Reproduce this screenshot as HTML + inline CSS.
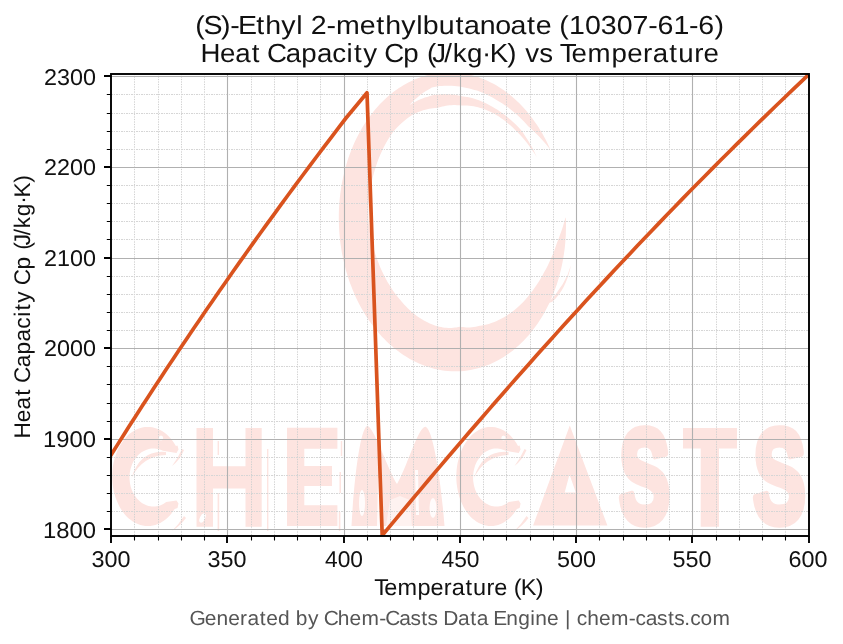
<!DOCTYPE html><html><head><meta charset="utf-8"><style>html,body{margin:0;padding:0;background:#fff;overflow:hidden}svg{display:block;will-change:transform}text{font-family:"Liberation Sans",sans-serif;text-rendering:geometricPrecision}</style></head><body>
<svg width="843" height="644" viewBox="0 0 843 644">
<defs><clipPath id="ax"><rect x="111.00" y="73.86" width="698.00" height="461.84"/></clipPath></defs>
<g clip-path="url(#ax)" fill="#fde4e0">
<path d="M565.8,217.8 L566.0,222.0 L566.0,226.3 L565.9,230.6 L565.8,234.9 L565.5,239.2 L565.2,243.4 L564.8,247.7 L564.2,251.9 L563.6,256.1 L562.9,260.2 L562.1,264.4 L561.2,268.5 L560.2,272.5 L559.2,276.5 L558.0,280.5 L556.8,284.4 L555.4,288.3 L554.0,292.1 L552.5,295.9 L550.9,299.6 L549.3,303.2 L547.5,306.8 L545.7,310.3 L543.8,313.7 L541.9,317.0 L539.8,320.3 L537.7,323.5 L535.5,326.6 L533.2,329.6 L530.9,332.5 L528.5,335.4 L526.1,338.1 L523.6,340.8 L521.0,343.3 L518.4,345.8 L515.7,348.1 L513.0,350.4 L510.2,352.5 L507.3,354.5 L504.5,356.5 L501.6,358.3 L498.6,360.0 L495.6,361.5 L492.6,363.0 L489.5,364.4 L486.4,365.6 L483.3,366.7 L480.1,367.7 L477.0,368.6 L473.8,369.3 L470.6,370.0 L467.3,370.5 L464.1,370.9 L460.8,371.2 L457.6,371.3 L454.3,371.3 L451.1,371.2 L447.8,371.0 L444.6,370.7 L441.3,370.2 L438.1,369.6 L434.8,368.9 L431.6,368.0 L428.4,367.1 L425.3,366.0 L422.1,364.8 L419.0,363.5 L415.9,362.1 L412.8,360.5 L409.8,358.9 L406.8,357.1 L403.8,355.2 L400.9,353.2 L398.0,351.1 L395.1,348.9 L392.4,346.6 L389.6,344.2 L386.9,341.7 L384.3,339.1 L381.7,336.4 L379.2,333.6 L376.7,330.7 L374.3,327.7 L372.0,324.6 L369.7,321.4 L367.5,318.2 L365.4,314.9 L363.3,311.5 L361.3,308.0 L359.4,304.5 L357.6,300.9 L355.8,297.2 L354.2,293.4 L352.6,289.7 L351.1,285.8 L349.6,281.9 L348.3,277.9 L347.0,273.9 L345.8,269.9 L344.8,265.8 L343.8,261.7 L342.9,257.5 L342.0,253.4 L341.3,249.2 L340.7,244.9 L340.1,240.7 L339.7,236.4 L339.3,232.1 L339.1,227.9 L338.9,223.6 L338.8,219.3 L338.8,215.0 L338.9,210.7 L339.1,206.4 L339.4,202.2 L339.8,197.9 L340.3,193.7 L340.9,189.5 L341.5,185.3 L342.3,181.2 L343.2,177.1 L344.1,173.0 L345.1,168.9 L346.2,165.0 L347.4,161.0 L348.7,157.1 L350.1,153.3 L351.6,149.5 L353.1,145.8 L354.7,142.1 L356.4,138.5 L358.2,135.0 L360.1,131.5 L362.0,128.1 L364.0,124.8 L366.1,121.6 L368.3,118.5 L370.5,115.4 L372.8,112.4 L375.1,109.5 L377.6,106.8 L380.0,104.1 L382.6,101.5 L385.2,99.0 L387.8,96.6 L390.6,94.3 L393.3,92.1 L396.1,90.0 L399.0,88.0 L415.7,113.1 L413.5,114.3 L411.4,115.6 L409.2,117.1 L407.1,118.6 L405.0,120.3 L402.9,122.0 L400.9,123.8 L398.8,125.8 L396.8,127.8 L394.8,129.9 L392.9,132.2 L391.2,134.7 L389.5,137.2 L387.9,139.8 L386.3,142.5 L384.8,145.3 L383.4,148.1 L382.0,151.0 L380.6,154.0 L379.3,157.0 L378.1,160.1 L377.0,163.3 L375.9,166.5 L374.9,169.7 L373.9,173.0 L373.0,176.4 L372.2,179.8 L371.5,183.2 L370.8,186.7 L370.3,190.2 L369.7,193.8 L369.3,197.3 L369.0,200.9 L368.7,204.5 L368.5,208.1 L368.4,211.8 L368.4,215.4 L368.4,219.1 L368.7,222.7 L369.1,226.3 L369.7,229.9 L370.3,233.5 L370.9,237.1 L371.7,240.6 L372.5,244.1 L373.4,247.6 L374.4,251.0 L375.5,254.4 L376.6,257.7 L377.8,261.0 L379.0,264.3 L380.3,267.4 L381.7,270.6 L383.1,273.6 L384.6,276.6 L386.2,279.5 L387.8,282.4 L389.5,285.1 L391.2,287.8 L392.9,290.5 L394.7,293.0 L396.6,295.4 L398.4,297.8 L400.3,300.1 L402.2,302.2 L404.1,304.4 L406.1,306.4 L408.0,308.4 L410.0,310.2 L411.9,312.0 L413.9,313.6 L415.9,315.2 L417.9,316.7 L419.9,318.1 L421.9,319.3 L423.9,320.5 L425.9,321.6 L427.9,322.6 L429.8,323.5 L431.8,324.3 L433.7,325.1 L435.6,325.7 L437.5,326.2 L439.3,326.7 L441.2,327.1 L443.0,327.4 L444.8,327.7 L446.5,327.8 L448.2,327.9 L449.9,327.9 L451.6,327.9 L453.2,327.8 L454.9,327.6 L456.5,327.4 L458.1,327.1 L459.6,326.8 L461.2,326.9 L462.9,327.1 L464.6,327.3 L466.4,327.4 L468.2,327.4 L470.0,327.4 L471.9,327.2 L473.8,327.0 L475.7,326.7 L477.7,326.3 L479.7,325.8 L482.0,325.4 L484.2,325.0 L486.6,324.5 L488.9,323.9 L491.3,323.1 L493.7,322.2 L496.2,321.2 L498.6,320.1 L501.1,318.8 L503.6,317.5 L506.1,315.9 L508.6,314.3 L511.1,312.6 L513.6,310.7 L516.0,308.7 L518.5,306.5 L520.9,304.3 L523.2,301.9 L525.5,299.4 L527.8,296.8 L530.0,294.1 L532.2,291.3 L534.3,288.3 L536.4,285.3 L538.4,282.2 L540.4,279.0 L542.3,275.7 L544.1,272.3 L546.0,268.9 L547.8,265.4 L549.5,261.8 L551.2,258.1 L552.8,254.3 L554.3,250.5 L555.7,246.6 L557.0,242.7 L558.6,238.7 L560.1,234.6 L561.6,230.5 L563.0,226.3 L564.2,222.1 L565.4,217.8ZM398.1,88.6 L400.7,86.9 L403.4,85.3 L406.1,83.7 L408.8,82.2 L411.6,80.9 L414.4,79.6 L417.2,78.5 L420.0,77.4 L422.9,76.4 L425.8,75.6 L428.7,74.8 L431.6,74.1 L434.5,73.6 L437.5,73.1 L440.4,72.7 L443.4,72.5 L446.3,72.3 L449.3,72.3 L452.3,72.3 L455.3,72.5 L458.2,72.7 L461.2,73.1 L464.2,73.5 L467.1,74.1 L470.1,74.8 L473.0,75.5 L475.9,76.4 L478.8,77.3 L481.7,78.4 L484.6,79.5 L487.4,80.8 L490.2,82.2 L493.0,83.6 L495.8,85.1 L498.5,86.8 L501.2,88.5 L503.9,90.3 L506.5,92.2 L509.1,94.2 L511.7,96.3 L514.2,98.5 L516.6,100.8 L519.1,103.1 L521.5,105.5 L523.8,108.0 L526.1,110.6 L528.3,113.2 L530.5,116.0 L532.6,118.8 L534.7,121.7 L536.7,124.6 L538.7,127.6 L540.6,130.7 L542.5,133.8 L544.2,137.0 L546.0,140.3 L547.6,143.6 L549.2,146.9 L550.7,150.3 L550.7,150.3 L548.4,147.3 L546.0,144.3 L543.6,141.5 L541.1,138.7 L538.6,136.0 L536.0,133.4 L533.5,130.9 L530.8,128.5 L528.2,126.3 L526.0,123.7 L523.7,121.3 L521.4,118.9 L519.1,116.7 L516.7,114.5 L514.3,112.4 L511.9,110.4 L509.4,108.4 L507.0,106.6 L504.5,104.9 L502.0,103.2 L499.4,101.7 L496.9,100.2 L494.5,98.7 L492.0,97.3 L489.5,95.9 L487.0,94.7 L484.5,93.5 L482.0,92.5 L479.5,91.5 L477.0,90.6 L474.4,89.9 L471.9,89.2 L469.4,88.5 L466.8,88.0 L464.3,87.6 L461.8,87.1 L459.3,86.6 L456.8,86.3 L454.3,86.0 L451.8,85.8 L449.3,85.7 L446.8,85.7 L444.3,85.7 L441.8,85.9 L439.3,86.1 L436.8,86.5 L434.3,86.9 L431.8,87.6 L429.5,88.9 L427.3,90.2 L425.1,91.6 L422.9,93.0 L420.8,94.6 L418.8,96.2 L416.8,97.9 L414.9,99.6 L413.0,101.4 L411.1,103.2 L409.4,105.2ZM409.4,105.2 L411.5,103.8 L413.7,102.6 L415.9,101.4 L418.2,100.3 L420.4,99.3 L422.6,98.4 L424.8,97.6 L427.1,96.9 L429.3,96.2 L431.6,95.6 L433.8,95.1 L436.1,94.7 L438.3,94.5 L440.6,94.2 L442.8,94.1 L445.1,94.1 L447.3,94.1 L449.6,94.2 L451.8,94.4 L454.0,94.6 L456.2,94.9 L458.4,95.4 L460.6,95.8 L462.8,96.4 L465.1,96.7 L467.4,97.1 L469.7,97.5 L472.0,98.1 L474.3,98.7 L476.6,99.5 L478.9,100.3 L481.2,101.2 L483.5,102.2 L485.9,103.3 L488.2,104.4 L490.5,105.7 L492.8,107.0 L495.2,108.4 L497.5,109.8 L499.9,111.4 L502.2,113.0 L504.5,114.7 L506.8,116.5 L509.1,118.4 L511.4,120.4 L513.6,122.4 L515.8,124.6 L518.0,126.8 L520.1,129.1 L522.2,131.6 L524.0,134.2 L525.8,136.9 L527.6,139.7 L529.3,142.5 L531.0,145.4 L532.6,148.3 L534.1,151.3 L535.6,154.4 L537.0,157.5 L537.0,157.5 L535.2,154.6 L533.3,151.7 L531.4,148.9 L529.4,146.2 L527.4,143.6 L525.4,141.0 L523.3,138.5 L521.1,136.1 L519.0,133.8 L516.8,131.6 L514.7,129.4 L512.5,127.3 L510.3,125.3 L508.0,123.4 L505.8,121.5 L503.5,119.8 L501.2,118.2 L498.9,116.6 L496.6,115.2 L494.3,113.8 L492.0,112.5 L489.7,111.4 L487.4,110.4 L485.0,109.5 L482.7,108.6 L480.4,107.9 L478.1,107.3 L475.9,106.8 L473.6,106.3 L471.4,106.0 L469.3,105.7 L467.1,105.5 L465.0,105.4 L462.9,105.4 L460.9,105.4 L459.0,105.3 L457.0,105.2 L455.1,105.1 L453.3,105.1 L451.4,105.2 L449.5,105.3 L447.7,105.6 L445.9,105.8 L444.1,106.2 L442.3,106.6 L440.5,107.0 L438.8,107.5 L437.0,108.0 L435.1,108.1 L433.2,108.3 L431.2,108.5 L429.2,108.8 L427.3,109.2 L425.3,109.7 L423.2,110.3 L421.2,110.9 L419.1,111.7 L417.1,112.5 L415.0,113.4Z"/>
<path d="M548,303 Q566,284 571,265 Q566,290 552,302Z"/>
<path d="M175.9,446.0 L174.2,443.3 L172.5,440.7 L170.6,438.4 L168.6,436.2 L166.5,434.3 L164.3,432.5 L162.0,431.0 L159.6,429.7 L157.2,428.7 L154.8,427.9 L152.3,427.3 L149.7,427.0 L147.2,426.9 L144.7,427.1 L142.2,427.5 L139.7,428.2 L137.3,429.1 L134.9,430.3 L132.5,431.7 L130.3,433.3 L128.1,435.1 L126.1,437.2 L124.1,439.4 L122.3,441.9 L120.6,444.5 L119.0,447.3 L117.6,450.2 L116.4,453.2 L115.3,456.4 L114.3,459.7 L113.5,463.0 L112.9,466.5 L112.5,469.9 L112.3,473.4 L112.2,477.0 L112.3,480.5 L112.6,484.0 L113.1,487.4 L113.7,490.9 L114.5,494.2 L115.5,497.4 L116.7,500.6 L118.0,503.6 L119.4,506.5 L121.0,509.2 L122.8,511.8 L124.6,514.2 L126.6,516.4 L128.7,518.4 L130.9,520.1 L133.1,521.7 L135.5,523.0 L137.9,524.1 L140.3,525.0 L142.8,525.6 L145.4,526.0 L147.9,526.1 L150.4,526.0 L152.9,525.6 L155.4,525.0 L157.9,524.1 L160.3,523.0 L162.6,521.6 L164.9,520.0 L167.0,518.2 L169.1,516.2 L171.1,514.0 L172.9,511.6 L174.7,509.0 L177.5,508.0 L178.5,503.5 L176.5,500.5 L166.2,502.1 L164.8,503.1 L163.3,504.0 L161.7,504.7 L160.1,505.4 L158.5,505.9 L156.9,506.2 L155.2,506.4 L153.6,506.5 L151.9,506.4 L150.2,506.2 L148.6,505.9 L147.0,505.4 L145.4,504.8 L143.8,504.0 L142.3,503.2 L140.9,502.2 L139.5,501.0 L138.2,499.8 L136.9,498.5 L135.8,497.0 L134.7,495.5 L133.7,493.9 L132.8,492.2 L132.0,490.4 L131.3,488.6 L130.7,486.7 L130.3,484.7 L129.9,482.8 L129.7,480.8 L129.5,478.8 L129.5,476.8 L129.6,474.7 L129.8,472.7 L130.2,470.8 L130.6,468.8 L131.2,466.9 L131.8,465.1 L132.6,463.3 L133.4,461.6 L134.4,459.9 L135.5,458.4 L136.6,456.9 L137.8,455.5 L139.1,454.3 L140.5,453.1 L141.9,452.1 L143.4,451.2 L145.0,450.4 L146.6,449.7 L148.2,449.2 L149.8,448.8 L151.5,448.6 L153.1,448.5 L154.8,448.5 L156.5,448.7 L158.1,449.0 L159.7,449.5 L161.3,450.1 L162.9,450.8 L176.5,453.0 L178.5,449.5 L177.5,445.5Z"/>
<g transform="translate(0.0,0)"><path d="M166,452 Q140,449.5 131.5,478 Q142,456 166,455Z"/><ellipse fill="#fff" fill-opacity="0.9" cx="161" cy="438" rx="2.2" ry="2.6"/><path d="M184,450 Q180,460 172,466 Q178,458 182,449Z"/><path d="M186,518 Q180,526 172,531 Q179,524 184,516Z"/></g>
<path d="M196.5,428H213V466.2H245.5V428H261.7V526.7H245.5V488.6H213V526.7H196.5Z"/>
<path d="M217.6,441H219V455H217.6Z M217.6,493H219.2V531H217.6Z M267,449H268.4V531H267Z"/><ellipse fill="#fff" cx="202.5" cy="518" rx="2.6" ry="5" transform="rotate(25 202.5 518)"/>
<path d="M287,427.8H337.4V448.7H304.3V466H332V486H304.3V505.2H337.4V526H287Z"/>
<path d="M340.8,441H342.2V456H340.8Z M339.5,472H341V493H339.5Z M338.8,512H340.4V531H338.8Z"/><path fill="#fff" d="M306,452 L310,451 L309,460 L305.5,459Z"/>
<path d="M351.5,526 C354,480 360,430 367,426 C373,424 388,470 397,484 C406,470 419,424 426,427 C433,430 441,480 444.5,526Z"/>
<g fill="#fff" fill-opacity="0.85"><ellipse cx="362" cy="503" rx="3" ry="13"/><path d="M378,478 L381,478 L382,526 L377,526Z"/><path fill-opacity="0.5" d="M390,500 L400,496 L410,500 L412,526 L386,526Z"/><ellipse cx="433" cy="508" rx="3.5" ry="10"/><path d="M415,470 L418,470 L419,515 L416,515Z"/></g><g fill="#fde4e0">
<path d="M518.0,446.0 L516.5,443.3 L514.8,440.7 L512.9,438.4 L511.0,436.2 L509.0,434.3 L506.8,432.5 L504.6,431.0 L502.3,429.7 L500.0,428.7 L497.6,427.9 L495.2,427.3 L492.7,427.0 L490.3,426.9 L487.8,427.1 L485.4,427.5 L483.0,428.2 L480.6,429.1 L478.3,430.3 L476.0,431.7 L473.9,433.3 L471.8,435.1 L469.8,437.2 L467.9,439.4 L466.1,441.9 L464.5,444.5 L462.9,447.3 L461.6,450.2 L460.3,453.2 L459.3,456.4 L458.4,459.7 L457.6,463.0 L457.0,466.5 L456.6,469.9 L456.4,473.4 L456.3,477.0 L456.4,480.5 L456.7,484.0 L457.2,487.4 L457.8,490.9 L458.6,494.2 L459.5,497.4 L460.6,500.6 L461.9,503.6 L463.3,506.5 L464.9,509.2 L466.6,511.8 L468.4,514.2 L470.3,516.4 L472.3,518.4 L474.4,520.1 L476.6,521.7 L478.9,523.0 L481.2,524.1 L483.6,525.0 L486.0,525.6 L488.5,526.0 L490.9,526.1 L493.4,526.0 L495.8,525.6 L498.2,525.0 L500.6,524.1 L502.9,523.0 L505.2,521.6 L507.4,520.0 L509.5,518.2 L511.5,516.2 L513.4,514.0 L515.2,511.6 L516.9,509.0 L519.6,508.0 L520.6,503.5 L518.7,500.5 L508.7,502.1 L507.3,503.1 L505.8,504.0 L504.3,504.7 L502.8,505.4 L501.2,505.9 L499.6,506.2 L498.0,506.4 L496.4,506.5 L494.8,506.4 L493.2,506.2 L491.6,505.9 L490.0,505.4 L488.5,504.8 L487.0,504.0 L485.5,503.2 L484.1,502.2 L482.8,501.0 L481.5,499.8 L480.3,498.5 L479.2,497.0 L478.1,495.5 L477.2,493.9 L476.3,492.2 L475.5,490.4 L474.8,488.6 L474.3,486.7 L473.8,484.7 L473.5,482.8 L473.2,480.8 L473.1,478.8 L473.1,476.8 L473.2,474.7 L473.4,472.7 L473.7,470.8 L474.2,468.8 L474.7,466.9 L475.3,465.1 L476.1,463.3 L476.9,461.6 L477.9,459.9 L478.9,458.4 L480.0,456.9 L481.2,455.5 L482.4,454.3 L483.8,453.1 L485.2,452.1 L486.6,451.2 L488.1,450.4 L489.6,449.7 L491.2,449.2 L492.8,448.8 L494.4,448.6 L496.0,448.5 L497.6,448.5 L499.2,448.7 L500.8,449.0 L502.4,449.5 L504.0,450.1 L505.5,450.8 L518.7,453.0 L520.6,449.5 L519.6,445.5Z"/>
<g transform="translate(342.5,0)"><path d="M166,452 Q140,449.5 131.5,478 Q142,456 166,455Z"/><ellipse fill="#fff" fill-opacity="0.9" cx="161" cy="438" rx="2.2" ry="2.6"/><path d="M184,450 Q180,460 172,466 Q178,458 182,449Z"/><path d="M186,518 Q180,526 172,531 Q179,524 184,516Z"/></g>
<path fill-rule="evenodd" d="M533.1,525.5 L569.8,425.6 L607.4,525.5Z M564.7,492.6 L569.5,474.6 L575.8,492.6Z"/>
</g><text transform="translate(619.22,522.18) scale(0.7598,1.3230)" font-size="100" font-weight="bold" stroke="#fde4e0" stroke-width="6.722" stroke-linejoin="round">S</text>
<path d="M683,428H737V448.5H719V526.7H700.7V448.5H683Z"/>
<text transform="translate(753.14,521.88) scale(0.7866,1.3244)" font-size="100" font-weight="bold" stroke="#fde4e0" stroke-width="6.632" stroke-linejoin="round">S</text>

</g>
<path d="M134.50,73.86V535.70M158.50,73.86V535.70M181.50,73.86V535.70M204.50,73.86V535.70M251.50,73.86V535.70M274.50,73.86V535.70M297.50,73.86V535.70M320.50,73.86V535.70M367.50,73.86V535.70M390.50,73.86V535.70M413.50,73.86V535.70M437.50,73.86V535.70M483.50,73.86V535.70M506.50,73.86V535.70M530.50,73.86V535.70M553.50,73.86V535.70M599.50,73.86V535.70M623.50,73.86V535.70M646.50,73.86V535.70M669.50,73.86V535.70M716.50,73.86V535.70M739.50,73.86V535.70M762.50,73.86V535.70M785.50,73.86V535.70" stroke="#d0d0d0" stroke-width="1.0" stroke-dasharray="1.3,1.2" fill="none"/>
<path d="M111,511.50H809M111,493.50H809M111,475.50H809M111,457.50H809M111,421.50H809M111,403.50H809M111,384.50H809M111,366.50H809M111,330.50H809M111,312.50H809M111,294.50H809M111,276.50H809M111,239.50H809M111,221.50H809M111,203.50H809M111,185.50H809M111,149.50H809M111,131.50H809M111,113.50H809M111,94.50H809" stroke="#d6d6d6" stroke-width="1.0" stroke-dasharray="2.2,0.8,1,1" fill="none"/>
<path d="M227.50,73.86V535.70M344.50,73.86V535.70M460.50,73.86V535.70M576.50,73.86V535.70M692.50,73.86V535.70M111,529.50H809M111,439.50H809M111,348.50H809M111,258.50H809M111,167.50H809M111,76.50H809" stroke="#b0b0b0" stroke-width="1.1" fill="none"/>
<path clip-path="url(#ax)" d="M106.04,462.96 L111.04,455.00 L117.09,445.37 L123.18,435.74 L129.31,426.11 L135.48,416.49 L141.69,406.86 L147.93,397.23 L154.22,387.60 L160.54,377.97 L166.90,368.34 L173.31,358.71 L179.75,349.09 L186.23,339.46 L192.75,329.83 L199.31,320.20 L205.90,310.57 L212.54,300.94 L219.21,291.31 L225.93,281.69 L232.68,272.06 L239.47,262.43 L246.30,252.80 L253.17,243.17 L260.08,233.54 L267.03,223.91 L274.01,214.29 L281.04,204.66 L288.10,195.03 L295.20,185.40 L302.35,175.77 L309.53,166.14 L316.75,156.51 L324.01,146.89 L331.30,137.26 L338.64,127.63 L346.02,118.00 L367.00,92.80 L382.20,535.50 L388.68,527.68 L395.18,519.86 L401.70,512.03 L408.23,504.21 L414.78,496.39 L421.35,488.57 L427.94,480.75 L434.55,472.92 L441.18,465.10 L447.83,457.28 L454.50,449.46 L461.20,441.64 L467.92,433.81 L474.66,425.99 L481.42,418.17 L488.21,410.35 L495.02,402.53 L501.86,394.70 L508.72,386.88 L515.61,379.06 L522.52,371.24 L529.46,363.42 L536.43,355.59 L543.42,347.77 L550.45,339.95 L557.50,332.13 L564.58,324.31 L571.69,316.48 L578.83,308.66 L586.00,300.84 L593.20,293.02 L600.43,285.19 L607.70,277.37 L615.00,269.55 L622.33,261.73 L629.69,253.91 L637.08,246.08 L644.51,238.26 L651.98,230.44 L659.48,222.62 L667.01,214.80 L674.59,206.97 L682.19,199.15 L689.84,191.33 L697.52,183.51 L705.24,175.69 L713.00,167.86 L720.80,160.04 L728.64,152.22 L736.51,144.40 L744.43,136.58 L752.39,128.75 L760.38,120.93 L768.42,113.11 L776.51,105.29 L784.63,97.47 L792.80,89.64 L801.01,81.82 L809.27,74.00 L814.27,69.26" stroke="#d9531e" stroke-width="3.7" fill="none" stroke-linejoin="round" stroke-linecap="square"/>
<rect x="111" y="74" width="698" height="462" fill="none" stroke="#000" stroke-width="1.9"/>
<path d="M111.00,536V543M227.00,536V543M344.00,536V543M460.00,536V543M576.00,536V543M692.00,536V543M809.00,536V543M111,529.00H104M111,439.00H104M111,348.00H104M111,258.00H104M111,167.00H104M111,76.00H104" stroke="#000" stroke-width="1.9" fill="none"/>
<path d="M134.50,536V540.5M158.50,536V540.5M181.50,536V540.5M204.50,536V540.5M251.50,536V540.5M274.50,536V540.5M297.50,536V540.5M320.50,536V540.5M367.50,536V540.5M390.50,536V540.5M413.50,536V540.5M437.50,536V540.5M483.50,536V540.5M506.50,536V540.5M530.50,536V540.5M553.50,536V540.5M599.50,536V540.5M623.50,536V540.5M646.50,536V540.5M669.50,536V540.5M716.50,536V540.5M739.50,536V540.5M762.50,536V540.5M785.50,536V540.5M111,511.50H106.8M111,493.50H106.8M111,475.50H106.8M111,457.50H106.8M111,421.50H106.8M111,403.50H106.8M111,384.50H106.8M111,366.50H106.8M111,330.50H106.8M111,312.50H106.8M111,294.50H106.8M111,276.50H106.8M111,239.50H106.8M111,221.50H106.8M111,203.50H106.8M111,185.50H106.8M111,149.50H106.8M111,131.50H106.8M111,113.50H106.8M111,94.50H106.8" stroke="#000" stroke-width="1.1" fill="none"/>
<text x="91.50" y="566.60" font-size="22.8" fill="#111" textLength="39.00" lengthAdjust="spacingAndGlyphs">300</text>
<text x="207.50" y="566.60" font-size="22.8" fill="#111" textLength="39.00" lengthAdjust="spacingAndGlyphs">350</text>
<text x="325.00" y="566.60" font-size="22.8" fill="#111" textLength="38.00" lengthAdjust="spacingAndGlyphs">400</text>
<text x="441.50" y="566.60" font-size="22.8" fill="#111" textLength="38.00" lengthAdjust="spacingAndGlyphs">450</text>
<text x="557.00" y="566.60" font-size="22.8" fill="#111" textLength="39.00" lengthAdjust="spacingAndGlyphs">500</text>
<text x="672.50" y="566.60" font-size="22.8" fill="#111" textLength="39.00" lengthAdjust="spacingAndGlyphs">550</text>
<text x="788.50" y="566.60" font-size="22.8" fill="#111" textLength="39.00" lengthAdjust="spacingAndGlyphs">600</text>
<text x="43.00" y="537.65" font-size="22.8" fill="#111" textLength="53.00" lengthAdjust="spacingAndGlyphs">1800</text>
<text x="43.00" y="447.06" font-size="22.8" fill="#111" textLength="53.00" lengthAdjust="spacingAndGlyphs">1900</text>
<text x="44.00" y="356.47" font-size="22.8" fill="#111" textLength="52.00" lengthAdjust="spacingAndGlyphs">2000</text>
<text x="44.00" y="265.88" font-size="22.8" fill="#111" textLength="52.00" lengthAdjust="spacingAndGlyphs">2100</text>
<text x="44.00" y="175.29" font-size="22.8" fill="#111" textLength="52.00" lengthAdjust="spacingAndGlyphs">2200</text>
<text x="44.00" y="84.70" font-size="22.8" fill="#111" textLength="52.00" lengthAdjust="spacingAndGlyphs">2300</text>
<text transform="translate(0,595.00) scale(1.0292,1)" x="363.68 373.27 386.20 405.64 418.30 431.23 439.05 452.40 459.60 472.73 480.11 492.73 499.27 506.04 520.44" y="0" font-size="22.85" fill="#111">Temperature (K)</text>
<text transform="translate(30.00,436.00) rotate(-90) scale(1.0023,1)" x="-2.39 13.70 26.46 40.05 47.43 52.97 68.47 81.44 94.40 107.12 118.86 125.19 132.91 144.87 150.41 166.14 179.19 185.92 190.26 200.23 207.24 219.22 231.65 237.99 252.64" y="0" font-size="22.6" fill="#111">Heat Capacity Cp (J/kg·K)</text>
<text transform="translate(0,34.00) scale(1.0988,1)" x="177.80 185.12 201.12 209.66 216.61 233.32 241.37 256.04 269.55 275.60 282.84 297.08 305.77 327.45 342.52 350.58 365.25 378.75 384.79 399.22 414.51 422.33 436.51 450.68 464.61 479.66 487.50 501.73 509.07 517.84 532.32 546.79 561.27 575.74 589.99 598.43 612.90 627.15 635.59 650.17" y="0" font-size="26.0" fill="#111">(S)-Ethyl 2-methylbutanoate (10307-61-6)</text>
<text transform="translate(0,62.00) scale(1.0536,1)" x="190.31 208.71 223.28 238.85 247.27 253.50 271.23 286.03 300.83 315.36 328.83 336.05 344.80 358.51 364.73 382.73 397.68 405.36 410.28 421.71 429.66 443.32 457.55 464.72 481.51 490.64 498.51 511.72 524.58 531.23 542.46 557.68 580.41 595.24 610.34 619.56 635.13 643.65 658.98 667.69" y="0" font-size="26.25" fill="#111">Heat Capacity Cp (J/kg·K) vs Temperature</text>
<text transform="translate(0,624.60) scale(1.0272,1)" x="184.39 199.34 210.73 222.13 233.78 240.85 252.86 259.21 270.62 282.15 288.01 299.77 310.34 315.08 328.93 340.33 352.01 369.30 374.99 388.65 399.57 410.17 416.24 426.16 431.55 445.87 457.88 464.21 475.54 480.24 492.92 504.50 516.23 521.15 532.55 543.90 550.06 555.85 561.50 571.73 583.13 594.81 612.10 618.70 628.74 639.66 650.26 656.33 666.25 671.90 681.93 693.58" y="0" font-size="20.4" fill="#555">Generated by Chem-Casts Data Engine | chem-casts.com</text>
</svg></body></html>
